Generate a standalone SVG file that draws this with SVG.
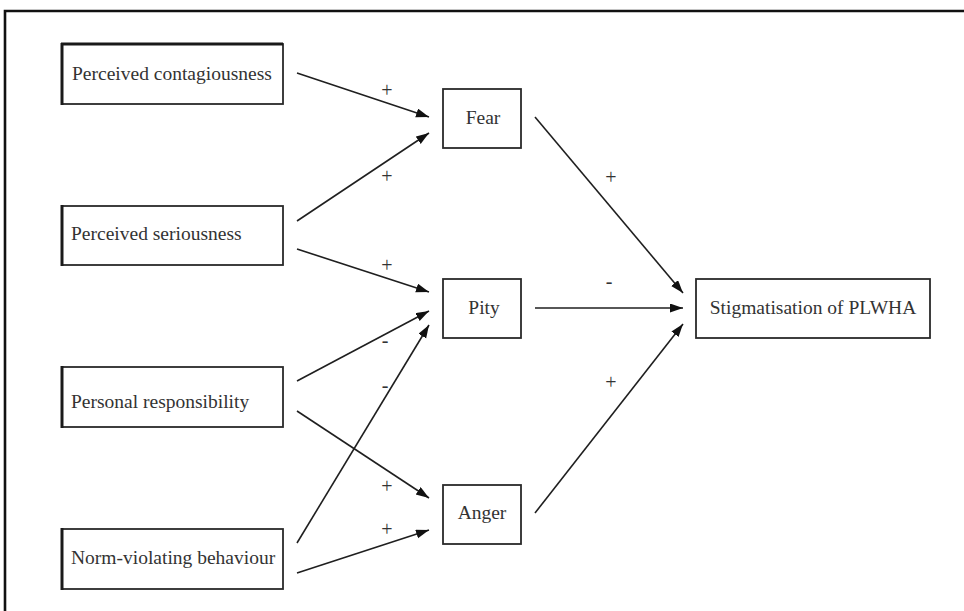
<svg xmlns="http://www.w3.org/2000/svg" width="964" height="611" viewBox="0 0 964 611">
<style>
.box{fill:#fff;stroke:#2a2a2a;stroke-width:1.8}
.edge{stroke:#1a1a1a;stroke-width:3}
.lbl{font-family:"Liberation Serif","Times New Roman",serif;font-size:19.5px;fill:#333}
.sg{font-family:"Liberation Serif","Times New Roman",serif;font-size:20px;fill:#333;text-anchor:middle}
.con{stroke:#1f1f1f;stroke-width:1.6;fill:none;marker-end:url(#ah)}
</style>
<defs>
<marker id="ah" markerUnits="userSpaceOnUse" markerWidth="14" markerHeight="10" refX="13" refY="4.5" orient="auto">
<path d="M0,0 L13,4.5 L0,9 z" fill="#111"/>
</marker>
</defs>
<rect width="964" height="611" fill="#fff"/>
<path d="M5,611 V11 H964" fill="none" stroke="#111" stroke-width="2.6"/>

<g id="contagiousness">
<rect class="box" x="62" y="44" width="221" height="60"/>
<line class="edge" x1="62" y1="43" x2="62" y2="105"/>
<line class="edge" x1="61" y1="44" x2="283" y2="44"/>
<text class="lbl" x="72" y="80">Perceived contagiousness</text>
</g>
<g id="seriousness">
<rect class="box" x="62" y="206" width="221" height="59"/>
<line class="edge" x1="62" y1="205" x2="62" y2="266"/>
<text class="lbl" x="71" y="240">Perceived seriousness</text>
</g>
<g id="responsibility">
<rect class="box" x="62" y="367" width="221" height="60"/>
<line class="edge" x1="62" y1="366" x2="62" y2="428"/>
<text class="lbl" x="71" y="408">Personal responsibility</text>
</g>
<g id="norm">
<rect class="box" x="62" y="529" width="221" height="60"/>
<line class="edge" x1="62" y1="528" x2="62" y2="590"/>
<text class="lbl" x="71" y="564">Norm-violating behaviour</text>
</g>
<g id="fear">
<rect class="box" x="443" y="89" width="78" height="59"/>
<text class="lbl" x="483" y="124" text-anchor="middle">Fear</text>
</g>
<g id="pity">
<rect class="box" x="443" y="279" width="78" height="59"/>
<text class="lbl" x="484" y="314" text-anchor="middle">Pity</text>
</g>
<g id="anger">
<rect class="box" x="443" y="485" width="78" height="59"/>
<text class="lbl" x="482" y="519" text-anchor="middle">Anger</text>
</g>
<g id="stigmatisation">
<rect class="box" x="696" y="279" width="234" height="59"/>
<text class="lbl" x="813" y="314" text-anchor="middle">Stigmatisation of PLWHA</text>
</g>

<g id="connectors">
<line class="con" x1="297" y1="73" x2="429" y2="117"/>
<line class="con" x1="297" y1="221" x2="429" y2="133"/>
<line class="con" x1="297" y1="249" x2="429" y2="292"/>
<line class="con" x1="297" y1="381" x2="429" y2="311"/>
<line class="con" x1="297" y1="543" x2="429" y2="325"/>
<line class="con" x1="297" y1="411" x2="429" y2="498"/>
<line class="con" x1="297" y1="573" x2="429" y2="530"/>
<line class="con" x1="535" y1="117" x2="683" y2="293"/>
<line class="con" x1="535" y1="308" x2="683" y2="308"/>
<line class="con" x1="535" y1="513" x2="683" y2="324"/>
<text class="sg" x="387" y="97">+</text>
<text class="sg" x="387" y="183">+</text>
<text class="sg" x="387" y="272">+</text>
<text class="sg" x="385" y="347">-</text>
<text class="sg" x="385" y="392">-</text>
<text class="sg" x="387" y="493">+</text>
<text class="sg" x="387" y="536">+</text>
<text class="sg" x="611" y="184">+</text>
<text class="sg" x="609" y="288">-</text>
<text class="sg" x="611" y="389">+</text>
</g>
</svg>
